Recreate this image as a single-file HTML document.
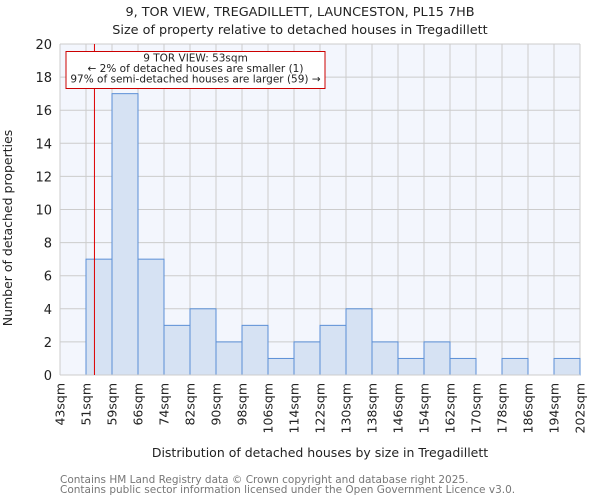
<!DOCTYPE html>
<html><head><meta charset="utf-8"><style>
body{margin:0;background:#fff;font-family:"DejaVu Sans","Liberation Sans",sans-serif}
</style></head><body>
<svg id="c" width="600" height="500" xmlns="http://www.w3.org/2000/svg" font-family="DejaVu Sans, Liberation Sans, sans-serif">
<text x="300" y="16" text-anchor="middle" font-size="12.8" fill="#222">9, TOR VIEW, TREGADILLETT, LAUNCESTON, PL15 7HB</text>
<text x="300" y="34" text-anchor="middle" font-size="12.8" fill="#222">Size of property relative to detached houses in Tregadillett</text>
<rect x="60" y="44" width="520" height="331" fill="#f3f6fd"/>
<g id="grid"></g><g id="bars"></g><g id="axes"></g>
<text x="320" y="457" text-anchor="middle" font-size="12.5" fill="#222">Distribution of detached houses by size in Tregadillett</text>
<text transform="translate(12,228) rotate(-90)" text-anchor="middle" font-size="12.5" fill="#222">Number of detached properties</text>
<text x="60" y="483" font-size="10.5" fill="#777">Contains HM Land Registry data © Crown copyright and database right 2025.</text>
<text x="60" y="493" font-size="10.5" fill="#777">Contains public sector information licensed under the Open Government Licence v3.0.</text>
</svg>
<script>
const edges=["43sqm","51sqm","59sqm","66sqm","74sqm","82sqm","90sqm","98sqm","106sqm","114sqm","122sqm","130sqm","138sqm","146sqm","154sqm","162sqm","170sqm","178sqm","186sqm","194sqm","202sqm"];
const edgeValues=[43,51,59,66,74,82,90,98,106,114,122,130,138,146,154,162,170,178,186,194,202];
const counts=[0,7,17,7,3,4,2,3,1,2,3,4,2,1,2,1,0,1,0,1];
const yTicks=[0,2,4,6,8,10,12,14,16,18,20];
const marker=53.6;
const NS="http://www.w3.org/2000/svg";
const L=60,R=580,T=44,B=375,yMax=20;
const bw=(R-L)/counts.length;
const xi=i=>L+i*bw;
const xv=v=>{for(let i=0;i<edgeValues.length-1;i++){if(v<=edgeValues[i+1])return xi(i)+(v-edgeValues[i])/(edgeValues[i+1]-edgeValues[i])*bw;}return R;};
const y=v=>B-v/yMax*(B-T);
function mk(p,tag,a,txt){const e=document.createElementNS(NS,tag);for(const k in a)e.setAttribute(k,a[k]);if(txt!==undefined)e.textContent=txt;document.getElementById(p).appendChild(e);return e;}
yTicks.forEach(t=>{
 const g=mk('grid','line',{x1:L,x2:R,y1:y(t),y2:y(t),stroke:'#ccc','stroke-width':1});
 
 
 const l=mk('axes','text',{x:L-8,y:y(t)+5,'text-anchor':'end','font-size':13,fill:'#222'},t);
 
 
});
edges.forEach((e,i)=>{
 const g=mk('grid','line',{x1:xi(i),x2:xi(i),y1:T,y2:B,stroke:'#ccc','stroke-width':1});
 
 
 const l=mk('axes','text',{transform:`translate(${xi(i)+4.5},383) rotate(-90)`,'text-anchor':'end','font-size':12.5,fill:'#222'},e);
 
 
});
counts.forEach((c,i)=>{
 if(c<=0)return;
 const r=mk('bars','rect',{x:xi(i),y:y(c),width:bw,height:B-y(c),fill:'#d6e2f3',stroke:'#5b8fd6','stroke-width':1});
 
 
});
const ax=mk('axes','line',{x1:L,x2:R,y1:B,y2:B,stroke:'#ccc'});


const ml=mk('axes','line',{x1:xv(marker),x2:xv(marker),y1:T,y2:B,stroke:'#d00','stroke-width':1});


const box=mk('axes','rect',{x:66,y:51.5,width:259,height:37,fill:'#fff',stroke:'#c00','stroke-width':1});


["9 TOR VIEW: 53sqm","← 2% of detached houses are smaller (1)","97% of semi-detached houses are larger (59) →"].forEach((s,k)=>{
 const t=mk('axes','text',{x:195.5,y:61.5+k*10.5,'text-anchor':'middle','font-size':10.5,fill:'#222'},s);
 
 
});
</script>
</body></html>
